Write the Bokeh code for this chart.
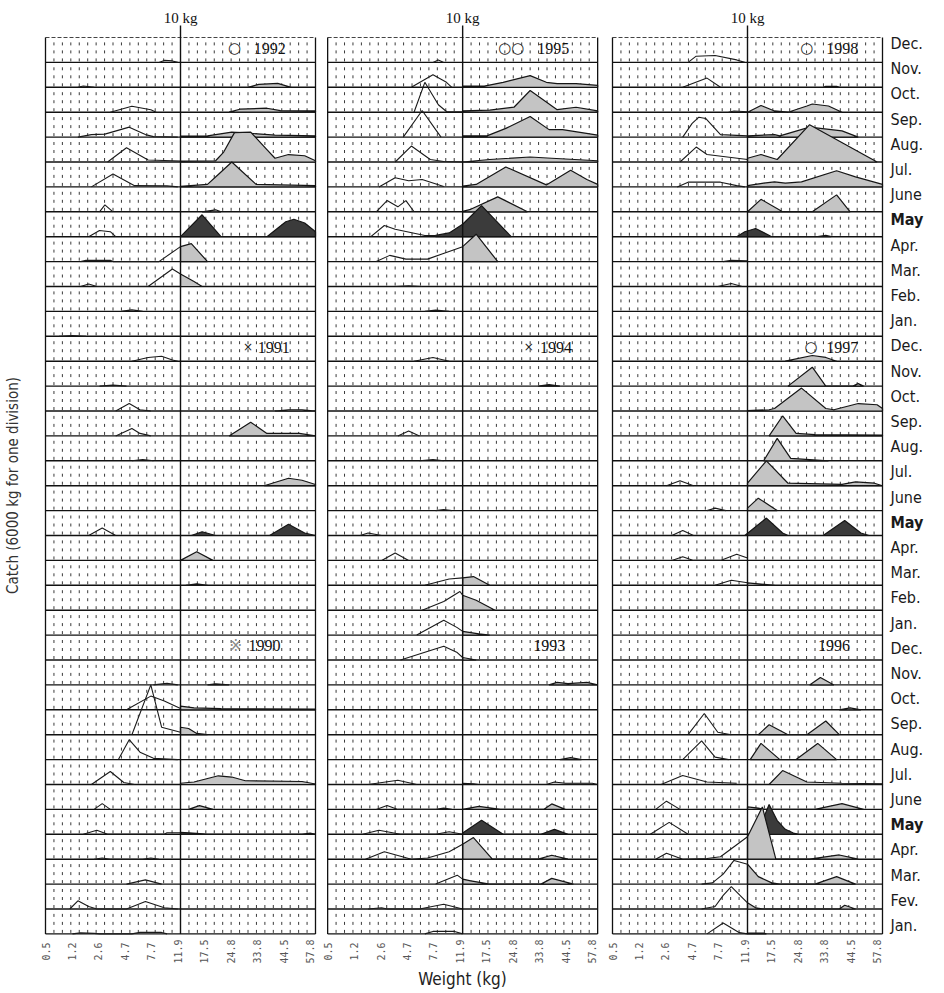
import math
from bokeh.plotting import figure
from bokeh.models import Range1d, ColumnDataSource
from bokeh.core.properties import value
from bokeh.embed import file_html
from bokeh.resources import INLINE

# Month rows inside one year block, top to bottom
MONTHS = ["Dec", "Nov", "Oct", "Sep", "Aug", "Jul", "Jun", "May", "Apr", "Mar", "Feb", "Jan"]
MONTH_LABELS = (
    ["Dec.", "Nov.", "Oct.", "Sep.", "Aug.", "Jul.", "June", "May", "Apr.", "Mar.", "Feb.", "Jan."] * 2
    + ["Dec.", "Nov.", "Oct.", "Sep.", "Aug.", "Jul.", "June", "May", "Apr.", "Mar.", "Fev.", "Jan."]
)
# Weight classes (kg) shown on the axis, one per class position 0..10
WEIGHT_TICKS = ["0.5", "1.2", "2.6", "4.7", "7.7", "11.9", "17.5", "24.8", "33.8", "44.5", "57.8"]
TEN_KG_POS = 5.0  # class position of the 10 kg limit

# Columns of panels, each holding three years from top to bottom
PANEL_YEARS = [[1992, 1991, 1990], [1995, 1994, 1993], [1998, 1997, 1996]]
YEAR_MARKS = {1992: "○", 1995: "○○", 1998: "○", 1991: "×", 1994: "×", 1997: "○", 1990: "※"}

# Monthly catch profiles: month -> (fish under 10 kg, fish over 10 kg)
# each profile is a list of (weight-class position, catch in divisions of 6000 kg)
catch_1992 = {
    "Dec": ([(4.2, 0), (4.4, 0.08), (4.7, 0.06), (4.9, 0)], []),
    "Nov": ([(1.2, 0), (1.4, 0.05), (1.8, 0)], [(7.5, 0), (7.9, 0.12), (8.6, 0.16), (9.1, 0)]),
    "Oct": ([(2.4, 0), (3.2, 0.24), (3.9, 0.1), (4.1, 0)], [(6.8, 0), (7.2, 0.12), (8.2, 0.16), (8.7, 0.06), (10, 0.05)]),
    "Sep": ([(1.2, 0), (1.7, 0.1), (2.2, 0.12), (3.1, 0.4), (3.7, 0.1), (4.0, 0.02), (4.9, 0)],
            [(5.0, 0.04), (6.0, 0.05), (6.9, 0.2), (7.6, 0.15), (8.5, 0.08), (10, 0.05)]),
    "Aug": ([(2.3, 0), (3.0, 0.57), (3.8, 0.08), (5.0, 0.04)],
            [(5.0, 0.04), (6.3, 0.05), (6.6, 0.4), (7.0, 1.18), (7.6, 1.2), (8.2, 0.5), (8.5, 0.15), (9.0, 0.3), (9.6, 0.25), (10, 0.05)]),
    "Jul": ([(1.7, 0), (2.5, 0.52), (3.3, 0.05), (4.5, 0.04), (4.9, 0)],
            [(5.0, 0.02), (6.0, 0.1), (6.4, 0.5), (6.9, 1.0), (7.2, 0.7), (7.8, 0.1), (10, 0.05)]),
    "Jun": ([(2.0, 0), (2.2, 0.28), (2.5, 0)], [(5.8, 0), (6.3, 0.08), (6.5, 0)]),
    "May": ([(1.6, 0), (2.0, 0.25), (2.4, 0.2), (2.6, 0)],
            [(5.0, 0), (5.8, 0.88), (6.5, 0), (8.2, 0), (8.9, 0.6), (9.2, 0.7), (9.6, 0.55), (10, 0.2)]),
    "Apr": ([(1.3, 0), (1.5, 0.05), (2.4, 0.05), (2.5, 0), (4.2, 0), (5.0, 0.6)], [(5.0, 0.6), (5.4, 0.72), (6.0, 0)]),
    "Mar": ([(1.3, 0), (1.6, 0.1), (1.9, 0), (3.8, 0), (4.7, 0.7), (5.0, 0.5)], [(5.0, 0.5), (5.5, 0.2), (5.8, 0)]),
    "Feb": ([(2.8, 0), (3.2, 0.06), (3.6, 0)], []),
    "Jan": ([(0.5, 0), (1.0, 0.03), (1.5, 0)], []),
}

catch_1991 = {
    "Dec": ([(3.2, 0), (3.8, 0.15), (4.3, 0.2), (4.7, 0.05), (4.9, 0)], []),
    "Nov": ([(2.0, 0), (2.5, 0.04), (3.0, 0)], []),
    "Oct": ([(2.6, 0), (3.1, 0.3), (3.5, 0.05), (3.9, 0)], [(8.5, 0), (9.0, 0.05), (9.5, 0.05), (10, 0)]),
    "Sep": ([(2.6, 0), (3.2, 0.3), (3.5, 0.1), (3.9, 0)], [(6.8, 0), (7.6, 0.55), (8.2, 0.1), (8.6, 0.1), (9.4, 0.1), (10, 0)]),
    "Aug": ([(3.2, 0), (3.6, 0.05), (4.0, 0)], []),
    "Jul": ([], [(8.1, 0), (9.0, 0.3), (9.5, 0.22), (10, 0.05)]),
    "Jun": ([], []),
    "May": ([(1.6, 0), (2.1, 0.3), (2.6, 0)], [(5.4, 0), (5.8, 0.15), (6.3, 0), (8.3, 0), (9.0, 0.45), (9.6, 0.1), (10, 0)]),
    "Apr": ([], [(5.0, 0), (5.6, 0.35), (6.2, 0)]),
    "Mar": ([], [(5.2, 0), (5.6, 0.06), (6.0, 0)]),
    "Feb": ([], []),
    "Jan": ([], []),
}

catch_1990 = {
    "Dec": ([], []),
    "Nov": ([(4.0, 0), (4.5, 0.06), (4.9, 0)], [(6.0, 0), (6.3, 0.04), (6.8, 0)]),
    "Oct": ([(3.0, 0), (3.9, 0.55), (4.4, 0.35), (5.0, 0.05)], [(5.0, 0.15), (5.5, 0.08), (6.5, 0.05), (10, 0.03)]),
    "Sep": ([(3.2, 0), (3.9, 2.0), (4.3, 0.3), (5.0, 0.1)], [(5.0, 0.3), (5.3, 0.25), (5.6, 0.05), (6.0, 0)]),
    "Aug": ([(2.7, 0), (3.1, 0.8), (3.5, 0.3), (4.0, 0.05), (4.9, 0)], []),
    "Jul": ([(1.7, 0), (2.4, 0.52), (2.9, 0.08), (3.3, 0)],
            [(5.0, 0.05), (5.5, 0.1), (6.4, 0.35), (6.9, 0.3), (7.4, 0.15), (9.5, 0.12), (10, 0.02)]),
    "Jun": ([(1.8, 0), (2.1, 0.23), (2.4, 0)], [(5.3, 0), (5.7, 0.15), (6.2, 0)]),
    "May": ([(1.4, 0), (1.9, 0.16), (2.3, 0), (4.4, 0), (4.5, 0.06), (5.0, 0.06)],
            [(5.0, 0.08), (5.6, 0.04), (6.0, 0), (9.5, 0), (9.8, 0.05), (10, 0)]),
    "Apr": ([(1.8, 0), (2.1, 0.05), (2.4, 0), (3.6, 0), (3.9, 0.05), (4.2, 0)], []),
    "Mar": ([(3.0, 0), (3.7, 0.17), (4.3, 0)], []),
    "Feb": ([(0.9, 0), (1.2, 0.33), (1.6, 0.1), (1.9, 0), (3.0, 0), (3.7, 0.3), (4.4, 0.05), (4.9, 0)], []),
    "Jan": ([(1.0, 0), (1.3, 0.04), (1.8, 0.02), (2.0, 0), (3.2, 0), (3.5, 0.06), (4.3, 0.06), (4.5, 0)], []),
}

catch_1995 = {
    "Dec": ([(3.9, 0), (4.1, 0.1), (4.3, 0)], []),
    "Nov": ([(3.1, 0), (3.9, 0.5), (4.4, 0.2), (4.6, 0)],
            [(5.0, 0.05), (5.8, 0.05), (6.5, 0.2), (7.5, 0.47), (8.1, 0.2), (8.5, 0.15), (9.2, 0.15), (10, 0.08)]),
    "Oct": ([(3.2, 0), (3.6, 1.2), (4.1, 0.3), (4.4, 0.03), (5.0, 0.02)],
            [(5.0, 0.05), (6.0, 0.08), (6.9, 0.2), (7.5, 0.87), (8.5, 0.1), (9.2, 0.2), (10, 0.05)]),
    "Sep": ([(2.8, 0), (3.5, 1.07), (4.0, 0.3), (4.2, 0)],
            [(5.0, 0.05), (5.9, 0.05), (6.6, 0.35), (7.5, 0.83), (8.2, 0.3), (8.7, 0.3), (10, 0.08)]),
    "Aug": ([(2.5, 0), (3.1, 0.64), (3.8, 0.1), (4.3, 0.02), (5.0, 0)], [(5.0, 0), (6.0, 0.1), (7.5, 0.2), (8.3, 0.15), (10, 0.05)]),
    "Jul": ([(1.9, 0), (2.5, 0.37), (3.0, 0.25), (3.5, 0.3), (4.3, 0.02)],
            [(5.0, 0.03), (5.5, 0.1), (6.6, 0.8), (8.1, 0.08), (9.0, 0.67), (9.6, 0.3), (10, 0.1)]),
    "Jun": ([(1.8, 0), (2.2, 0.45), (2.6, 0.2), (2.9, 0.45), (3.2, 0)], [(5.0, 0.02), (5.3, 0.1), (6.3, 0.6), (7.4, 0)]),
    "May": ([(1.6, 0), (2.1, 0.45), (2.5, 0.3), (3.6, 0.05), (4.0, 0.05)],
            [(4.0, 0.05), (4.5, 0.15), (5.0, 0.5), (5.7, 1.25), (6.8, 0)]),
    "Apr": ([(1.8, 0), (2.3, 0.25), (2.9, 0.1), (3.7, 0.1), (5.0, 0.6)], [(5.0, 0.6), (5.5, 1.1), (6.3, 0)]),
    "Mar": ([(2.5, 0), (3.0, 0.03), (3.5, 0)], []),
    "Feb": ([(3.6, 0), (4.0, 0.05), (4.5, 0)], []),
    "Jan": ([], []),
}

catch_1994 = {
    "Dec": ([(3.2, 0), (3.9, 0.15), (4.5, 0)], []),
    "Nov": ([], [(7.8, 0), (8.2, 0.06), (8.6, 0)]),
    "Oct": ([], []),
    "Sep": ([(2.6, 0), (3.0, 0.2), (3.4, 0)], []),
    "Aug": ([(3.4, 0), (3.9, 0.05), (4.3, 0)], []),
    "Jul": ([], []),
    "Jun": ([(4.0, 0), (4.3, 0.04), (4.6, 0)], []),
    "May": ([(1.2, 0), (1.5, 0.1), (2.0, 0)], []),
    "Apr": ([(2.0, 0), (2.5, 0.3), (3.0, 0)], []),
    "Mar": ([(3.6, 0), (4.5, 0.25), (5.0, 0.3)], [(5.0, 0.3), (5.4, 0.35), (6.0, 0)]),
    "Feb": ([(3.5, 0), (4.3, 0.35), (4.9, 0.75), (5.0, 0.6)], [(5.0, 0.6), (5.5, 0.4), (6.2, 0)]),
    "Jan": ([(3.3, 0), (4.3, 0.6), (4.8, 0.3), (5.0, 0.15)], [(5.0, 0.15), (5.6, 0.05), (6.0, 0)]),
}

catch_1993 = {
    "Dec": ([(2.7, 0), (4.3, 0.55), (4.8, 0.3), (5.0, 0.1)], [(5.0, 0.1), (5.5, 0)]),
    "Nov": ([], [(8.2, 0), (8.5, 0.1), (8.9, 0.05), (9.6, 0.1), (10, 0)]),
    "Oct": ([], []),
    "Sep": ([], []),
    "Aug": ([], [(8.6, 0), (9.0, 0.08), (9.4, 0)]),
    "Jul": ([(1.5, 0), (2.6, 0.17), (3.3, 0)],
            [(5.0, 0.05), (5.4, 0.03), (5.6, 0), (8.1, 0), (8.4, 0.1), (8.8, 0.05), (9.8, 0.05), (10, 0)]),
    "Jun": ([(1.8, 0), (2.2, 0.16), (2.6, 0), (4.0, 0), (4.3, 0.05), (4.6, 0)],
            [(5.0, 0), (5.6, 0.12), (6.4, 0), (8.0, 0), (8.3, 0.22), (8.8, 0)]),
    "May": ([(1.3, 0), (1.9, 0.16), (2.7, 0), (4.0, 0), (4.5, 0.1), (5.0, 0)],
            [(5.0, 0.05), (5.7, 0.56), (6.5, 0), (7.9, 0), (8.4, 0.2), (8.9, 0)]),
    "Apr": ([(1.4, 0), (2.1, 0.3), (3.1, 0), (3.7, 0.05), (4.5, 0.3), (5.0, 0.6)],
            [(5.0, 0.6), (5.4, 0.87), (6.1, 0), (7.8, 0), (8.3, 0.16), (8.9, 0)]),
    "Mar": ([(4.0, 0), (4.8, 0.36), (5.0, 0.2)], [(5.0, 0.2), (5.3, 0.13), (6.0, 0), (7.9, 0), (8.3, 0.23), (9.1, 0)]),
    "Feb": ([(1.5, 0), (2.0, 0.05), (2.2, 0), (3.4, 0), (4.3, 0.19), (5.0, 0)], []),
    "Jan": ([(3.6, 0), (3.9, 0.1), (4.7, 0.1), (5.0, 0)], []),
}

catch_1998 = {
    "Dec": ([(2.8, 0), (3.1, 0.25), (3.8, 0.28), (4.6, 0.1), (4.9, 0)], []),
    "Nov": ([(2.6, 0), (3.5, 0.37), (4.0, 0)], [(7.8, 0), (7.9, 0.04), (8.3, 0.04), (8.4, 0)]),
    "Oct": ([(4.3, 0), (4.5, 0.05), (5.0, 0.02)],
            [(5.0, 0), (5.5, 0.27), (6.0, 0.05), (6.5, 0), (7.2, 0.25), (7.4, 0.33), (8.0, 0.25), (8.5, 0)]),
    "Sep": ([(2.6, 0), (2.95, 0.55), (3.2, 0.8), (3.45, 0.75), (4.0, 0.1), (5.0, 0.05)],
            [(5.0, 0.05), (6.0, 0.1), (6.2, 0.05), (7.3, 0.4), (8.5, 0.25), (9.1, 0)]),
    "Aug": ([(2.5, 0), (3.1, 0.6), (3.5, 0.3), (5.0, 0.1)], [(5.0, 0.15), (5.5, 0.3), (6.1, 0.1), (7.3, 1.5), (9.8, 0)]),
    "Jul": ([(2.4, 0), (2.8, 0.19), (4.0, 0.19), (4.6, 0.05), (4.9, 0)],
            [(5.0, 0.05), (5.6, 0.15), (6.0, 0.2), (6.4, 0.15), (7.0, 0.2), (8.3, 0.65), (9.0, 0.4), (10, 0.1)]),
    "Jun": ([], [(5.0, 0), (5.5, 0.5), (6.3, 0), (7.4, 0), (8.3, 0.68), (8.8, 0)]),
    "May": ([], [(4.6, 0), (4.9, 0.2), (5.3, 0.33), (5.9, 0), (7.6, 0), (7.9, 0.05), (8.1, 0)]),
    "Apr": ([(4.1, 0), (4.4, 0.05), (5.0, 0.03)], []),
    "Mar": ([(3.9, 0), (4.4, 0.12), (4.8, 0)], []),
    "Feb": ([], []),
    "Jan": ([], []),
}

catch_1997 = {
    "Dec": ([], [(6.4, 0), (7.4, 0.23), (7.9, 0.15), (8.3, 0)]),
    "Nov": ([], [(6.5, 0), (7.4, 0.76), (7.9, 0), (8.9, 0), (9.1, 0.1), (9.3, 0)]),
    "Oct": ([], [(5.0, 0.02), (5.8, 0.05), (6.0, 0.1), (7.0, 0.92), (7.9, 0.1), (8.2, 0.05), (9.1, 0.3), (9.8, 0.25), (10, 0.1)]),
    "Sep": ([], [(5.8, 0), (6.3, 0.8), (6.8, 0.1), (7.5, 0.05), (10, 0.03)]),
    "Aug": ([], [(5.6, 0), (6.1, 0.9), (6.6, 0.1), (8.0, 0)]),
    "Jul": ([(2.0, 0), (2.5, 0.2), (3.0, 0)], [(5.0, 0.1), (5.7, 1.0), (6.5, 0.1), (8.5, 0.05), (9.0, 0.15), (9.7, 0.1), (10, 0)]),
    "Jun": ([(3.5, 0), (3.8, 0.1), (4.2, 0)], [(5.0, 0.1), (5.4, 0.5), (6.1, 0)]),
    "May": ([(2.2, 0), (2.6, 0.2), (3.0, 0)], [(4.9, 0), (5.7, 0.7), (6.3, 0.1), (6.5, 0), (7.8, 0), (8.6, 0.6), (9.2, 0.1), (9.5, 0)]),
    "Apr": ([(2.2, 0), (2.6, 0.15), (3.0, 0), (4.0, 0), (4.6, 0.25), (5.0, 0.1)], []),
    "Mar": ([(3.8, 0), (4.4, 0.2), (5.0, 0.1)], [(5.0, 0.1), (5.5, 0.05), (6.0, 0)]),
    "Feb": ([], []),
    "Jan": ([], []),
}

catch_1996 = {
    "Dec": ([], []),
    "Nov": ([], [(7.3, 0), (7.7, 0.3), (8.2, 0)]),
    "Oct": ([], [(8.4, 0), (8.8, 0.08), (9.2, 0)]),
    "Sep": ([(2.8, 0), (3.4, 0.85), (3.9, 0.1), (4.4, 0)], [(5.4, 0), (5.8, 0.4), (6.5, 0), (7.2, 0), (7.9, 0.55), (8.4, 0)]),
    "Aug": ([(2.6, 0), (3.3, 0.75), (3.8, 0.1), (4.3, 0)], [(5.1, 0), (5.5, 0.65), (6.2, 0), (6.8, 0), (7.6, 0.65), (8.3, 0)]),
    "Jul": ([(1.8, 0), (2.6, 0.36), (3.5, 0.1), (4.6, 0.05)], [(5.8, 0), (6.3, 0.56), (7.2, 0.1), (8.5, 0.05), (10, 0.03)]),
    "Jun": ([(1.6, 0), (2.0, 0.33), (2.5, 0)], [(5.0, 0.1), (5.4, 0.05), (5.6, 0), (7.5, 0), (8.5, 0.23), (9.3, 0)]),
    "May": ([(1.4, 0), (2.1, 0.48), (2.8, 0)],
            [(5.4, 0), (5.65, 0.8), (5.8, 1.2), (6.1, 0.55), (6.4, 0.2), (6.7, 0.05), (6.9, 0)]),
    "Apr": ([(1.6, 0), (2.0, 0.24), (2.6, 0), (3.5, 0.03), (4.0, 0.1), (4.5, 0.5), (5.0, 0.9)],
            [(5.0, 0.9), (5.55, 2.1), (6.05, 0), (7.3, 0), (8.4, 0.17), (9.1, 0)]),
    "Mar": ([(3.3, 0), (3.7, 0.05), (4.1, 0.4), (4.5, 0.95), (5.0, 0.8)],
            [(5.0, 0.8), (5.4, 0.3), (5.9, 0.05), (6.2, 0), (7.5, 0), (8.3, 0.3), (9.0, 0)]),
    "Feb": ([(3.3, 0), (3.8, 0.1), (4.1, 0.55), (4.4, 0.9), (5.0, 0.25)],
            [(5.0, 0.25), (5.3, 0.05), (5.6, 0), (8.4, 0), (8.6, 0.15), (9.0, 0)]),
    "Jan": ([(3.5, 0), (4.1, 0.44), (4.7, 0.05), (5.0, 0)], [(5.0, 0.03), (5.6, 0.03), (5.7, 0)]),
}

CATCH = {1990: catch_1990, 1991: catch_1991, 1992: catch_1992,
         1993: catch_1993, 1994: catch_1994, 1995: catch_1995,
         1996: catch_1996, 1997: catch_1997, 1998: catch_1998}

# ---- page geometry: one weight class = 27 px, one catch division = 24.9 px ----
W, H = 944, 993
PX_X, PX_Y = 27.0, 24.9
LEFT_PX, BOTTOM_PX = 45.0, 933.4
N_ROWS = 36
PANEL_OFFSET = [0.0, 10.45, 21.0]
PANEL_WIDTH = 10.0


def from_px_x(px):
    return (px - LEFT_PX) / PX_X


def from_px_y(py):
    return (BOTTOM_PX - py) / PX_Y


NARROW = value("'Liberation Sans Narrow', 'DejaVu Sans Condensed', 'Noto Sans', sans-serif")
SERIF = value("Liberation Serif")

p = figure(width=W, height=H, output_backend="svg", toolbar_location=None,
           x_range=Range1d(from_px_x(0), from_px_x(W)),
           y_range=Range1d(from_px_y(H), from_px_y(0)),
           x_axis_location=None, y_axis_location=None,
           min_border=0, min_border_left=0, min_border_right=0,
           min_border_top=0, min_border_bottom=0)
p.grid.visible = False
p.outline_line_color = None
p.background_fill_color = "white"

# dotted vertical guides inside every row, restarted at each row baseline
gx0, gy0, gx1, gy1 = [], [], [], []
for off in PANEL_OFFSET:
    for k in range(1, 32):
        if k == 16:
            continue
        x = off + k * PANEL_WIDTH / 32
        for r in range(N_ROWS):
            gx0.append(x); gy0.append(r + 0.04)
            gx1.append(x); gy1.append(r + 1.0)
p.segment(gx0, gy0, gx1, gy1, line_color="#3a3a3a", line_width=1, line_dash="3 5")

# row baselines
bx0, by, bx1 = [], [], []
for off in PANEL_OFFSET:
    for r in range(N_ROWS):
        bx0.append(off); bx1.append(off + PANEL_WIDTH); by.append(r)
p.segment(bx0, by, bx1, by, line_color="#111111", line_width=1.4)
p.segment([o for o in PANEL_OFFSET], [N_ROWS] * 3, [o + PANEL_WIDTH for o in PANEL_OFFSET], [N_ROWS] * 3,
          line_color="#444444", line_width=1, line_dash="4 2")

# catch profiles, drawn row by row from the top so lower ridges overlap upper ones
small_xs, small_ys = [], []
fill_xs, fill_ys, fill_col = [], [], []
for pi, years in enumerate(PANEL_YEARS):
    off = PANEL_OFFSET[pi]
    for bi, year in enumerate(years):
        for mi, month in enumerate(MONTHS):
            r = bi * 12 + mi
            base = N_ROWS - 1 - r
            small, large = CATCH[year][month]
            if small:
                small_xs.append([off + u for u, h in small])
                small_ys.append([base + h for u, h in small])
            if large:
                xs = [off + large[0][0]] + [off + u for u, h in large] + [off + large[-1][0]]
                ys = [base] + [base + h for u, h in large] + [base]
                fill_xs.append(xs); fill_ys.append(ys)
                fill_col.append("#3b3b3b" if month == "May" else "#c4c4c4")

p.multi_line(small_xs, small_ys, line_color="#1a1a1a", line_width=1.1)
p.patches("xs", "ys", source=ColumnDataSource(dict(xs=fill_xs, ys=fill_ys, c=fill_col)),
          fill_color="c", line_color="#151515", line_width=1.2)

# panel sides and the 10 kg limit
for off in PANEL_OFFSET:
    p.segment([off, off + PANEL_WIDTH], [0, 0], [off, off + PANEL_WIDTH], [N_ROWS, N_ROWS],
              line_color="#111111", line_width=1.3)
    p.segment([off + TEN_KG_POS], [0], [off + TEN_KG_POS], [from_px_y(25)],
              line_color="#111111", line_width=1.4)

# "10 kg" headers
p.text([off + TEN_KG_POS for off in PANEL_OFFSET], [from_px_y(17)] * 3, text=["10 kg"] * 3,
       text_font=SERIF, text_font_size="15px", text_align="center", text_baseline="middle",
       text_color="#111111")

# year labels with their markers
YEAR_TEXT_RIGHT = {1992: 8.9, 1991: 9.05, 1990: 8.7, 1995: 8.95, 1994: 9.05, 1993: 8.8,
                   1998: 9.1, 1997: 9.1, 1996: 8.8}
MARK_CENTER = {1992: 7.0, 1991: 7.5, 1990: 7.05, 1995: 6.8, 1994: 7.45, 1998: 7.2, 1997: 7.35}
yx, yy, yt = [], [], []
mx, my, mt, mc, ms = [], [], [], [], []
for pi, years in enumerate(PANEL_YEARS):
    off = PANEL_OFFSET[pi]
    for bi, year in enumerate(years):
        ymid = N_ROWS - 1 - bi * 12 + 0.57
        yx.append(off + YEAR_TEXT_RIGHT[year]); yy.append(ymid); yt.append(str(year))
        if year in YEAR_MARKS:
            mark = YEAR_MARKS[year]
            mx.append(off + MARK_CENTER[year]); my.append(ymid); mt.append(mark)
            mc.append("#8a8a8a" if mark == "※" else "#222222")
            ms.append("12px" if mark == "×" else "15px")
p.text(yx, yy, text=yt, text_font=SERIF, text_font_size="16px", text_align="right",
       text_baseline="middle", text_color="#111111")
p.text(mx, my, text=mt, text_font=value("DejaVu Sans"), text_font_size=ms, text_align="center",
       text_baseline="middle", text_color=mc)

# month names at the right
lab_x, lab_y, lab_t, lab_style = [], [], [], []
for i, lab in enumerate(MONTH_LABELS):
    lab_x.append(from_px_x(890)); lab_y.append(from_px_y(43 + 25.2 * i)); lab_t.append(lab)
    lab_style.append("bold" if lab == "May" else "normal")
p.text(lab_x, lab_y, text=lab_t, text_font=NARROW, text_font_size="16px", text_font_style=lab_style,
       text_align="left", text_baseline="middle", text_color="#1a1a1a")

# weight class labels under each panel
tx, ty, tt = [], [], []
for off in PANEL_OFFSET:
    for k, lab in enumerate(WEIGHT_TICKS):
        tx.append(off + 0.98 * k); ty.append(from_px_y(951)); tt.append(lab)
p.text(tx, ty, text=tt, angle=math.pi / 2, text_font=value("DejaVu Sans Mono"), text_font_size="10px",
       text_align="center", text_baseline="middle", text_color="#555555")

# axis titles
p.text([from_px_x(462)], [from_px_y(978)], text=["Weight (kg)"], text_font=NARROW, text_font_size="17px",
       text_align="center", text_baseline="middle", text_color="#222222")
p.text([from_px_x(12)], [from_px_y(485)], text=["Catch (6000 kg for one division)"], angle=math.pi / 2,
       text_font=NARROW, text_font_size="15px", text_align="center", text_baseline="middle",
       text_color="#333333")

open("out.html", "w").write(file_html(p, INLINE))
